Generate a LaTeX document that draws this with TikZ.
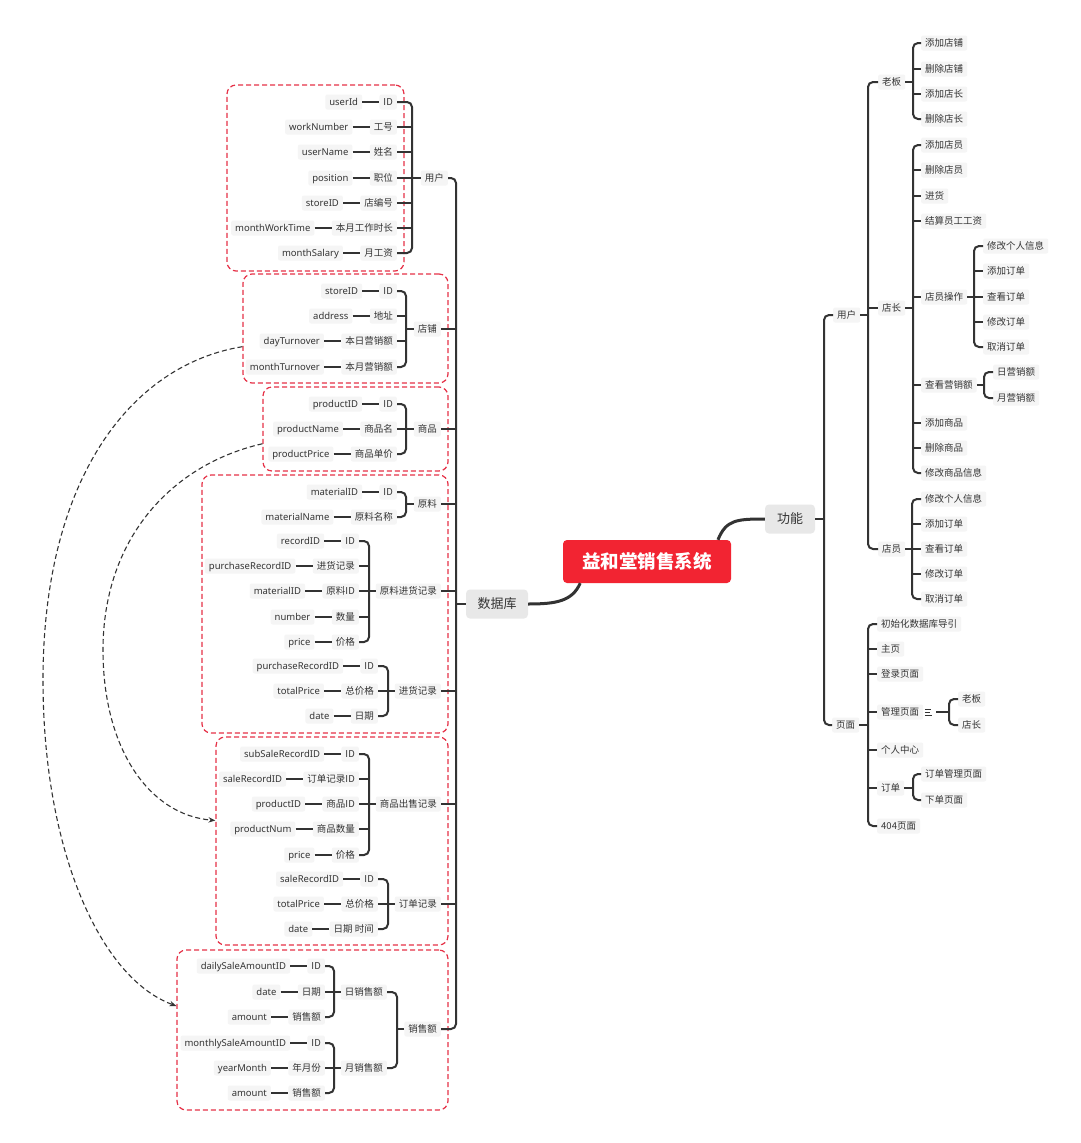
\documentclass[tikz,border=0pt]{standalone}
\usepackage{fontspec}
\setmainfont{Noto Sans CJK SC}
\newfontfamily\latfont{Noto Sans}
\usetikzlibrary{arrows.meta,calc}
\definecolor{ln}{RGB}{51,51,51}
\definecolor{txt}{RGB}{52,52,52}
\definecolor{lbg}{RGB}{245,245,245}
\definecolor{grpred}{RGB}{230,50,72}
\definecolor{rootred}{RGB}{242,36,50}
\definecolor{secbg}{RGB}{232,232,232}
\tikzset{
  lf/.style={fill=lbg, rounded corners=2pt, inner xsep=4pt, inner ysep=2.5pt,
    text height=8.5pt, text depth=1.5pt, text=txt, font=\fontsize{9.5}{11}\selectfont},
  en/.style={lf, font=\latfont\fontsize{9.5}{11}\selectfont},
  sec/.style={fill=secbg, rounded corners=4pt, minimum height=29pt, text=txt,
    font=\fontsize{13}{15}\selectfont},
  br/.style={draw=ln, line width=2pt, rounded corners=5pt},
  lk/.style={draw=ln, line width=2pt},
  rc/.style={draw=ln, line width=3pt},
  grp/.style={draw=grpred, dash pattern=on 5pt off 3pt, line width=1.2pt,
    rounded corners=9pt, inner sep=0pt},
  dep/.style={draw=ln, dash pattern=on 5pt off 3pt, line width=1.1pt,
    -{Stealth[length=7pt,width=5.5pt]}},
}
% a Chinese field label with its English column name to the left
\newcommand\fieldpair[5]{%
  \node[lf,anchor=east] (#1) at (#2,#3) {#4};
  \node[en,anchor=east] (#1e) at ($(#1.west)+(-17,0)$) {#5};
  \draw[lk] (#1e.east) -- (#1.west);}
% bracket of a left-growing group: trunk coordinate, first child, last child
\newcommand\lbracket[3]{%
  \draw[br] (#2.east) -- (#2.east -| #1) -- (#3.east -| #1) -- (#3.east);}
% bracket of a right-growing group
\newcommand\rbracket[3]{%
  \draw[br] (#2.west) -- (#2.west -| #1) -- (#3.west -| #1) -- (#3.west);}
\newcommand\rleaf[4]{\node[lf,anchor=west] (#1) at (#2,#3) {#4};}

\begin{document}
\begin{tikzpicture}[x=1pt,y=-1pt]
\useasboundingbox (0,0) rectangle (1080,1143);
\fill[white] (0,0) rectangle (1080,1143);

% ---------- table frames ----------
\node[grp, minimum width=177pt, minimum height=186pt] (gUser) at (315.5,178) {};
\node[grp, minimum width=205pt, minimum height=109pt] (gStore) at (345.5,328.5) {};
\node[grp, minimum width=185pt, minimum height=84pt] (gProd) at (355.5,429) {};
\node[grp, minimum width=246pt, minimum height=258pt] (gMat) at (325,604) {};
\node[grp, minimum width=232pt, minimum height=208pt] (gSale) at (332,841) {};
\node[grp, minimum width=271pt, minimum height=160pt] (gAmt) at (312.5,1030) {};

% ---------- central topic ----------
\node[fill=rootred, rounded corners=4pt, minimum width=168pt, minimum height=43pt,
  text=white, font=\fontsize{18.5}{20}\selectfont\bfseries] (root) at (647,561.5) {益和堂销售系统};
\node[sec, minimum width=50pt] (fn) at (790,519) {功能};
\node[sec, minimum width=62pt] (db) at (497,604) {数据库};
\draw[rc] (root.17) .. controls +(8,-20) and +(-28,0) .. (fn.west);
\draw[rc] (root.198) .. controls +(-8,18) and +(28,0) .. (db.east);

% ---------- database side ----------
\node[lf,anchor=east] (tUser) at (448,178) {用户};
\node[lf,anchor=east] (tStore) at (441,329) {店铺};
\node[lf,anchor=east] (tProd) at (441,429) {商品};
\node[lf,anchor=east] (tMat) at (441,504) {原料};
\node[lf,anchor=east] (tMP) at (441,591) {原料进货记录};
\node[lf,anchor=east] (tPR) at (441,691) {进货记录};
\node[lf,anchor=east] (tSR) at (441,804) {商品出售记录};
\node[lf,anchor=east] (tOR) at (441,904) {订单记录};
\node[lf,anchor=east] (tAmt) at (441,1029) {销售额};
\node[lf,anchor=east] (tDay) at (387,992) {日销售额};
\node[lf,anchor=east] (tMon) at (387,1068) {月销售额};

\coordinate (kDB) at (456,604);
\draw[lk] (db.west) -- (kDB);
\lbracket{kDB}{tUser}{tAmt}
\foreach \m in {tStore,tProd,tMat,tMP,tPR,tSR,tOR} \draw[lk] (\m.east) -- (\m.east -| kDB);

% user
\fieldpair{uf1}{397}{102}{ID}{userId}
\fieldpair{uf2}{397}{127}{工号}{workNumber}
\fieldpair{uf3}{397}{152}{姓名}{userName}
\fieldpair{uf4}{397}{178}{职位}{position}
\fieldpair{uf5}{397}{203}{店编号}{storeID}
\fieldpair{uf6}{397}{228}{本月工作时长}{monthWorkTime}
\fieldpair{uf7}{397}{253}{月工资}{monthSalary}
\coordinate (kUser) at (412,178);
\draw[lk] (tUser.west) -- (kUser);
\lbracket{kUser}{uf1}{uf7}
\foreach \m in {uf2,uf3,uf4,uf5,uf6} \draw[lk] (\m.east) -- (\m.east -| kUser);

% store
\fieldpair{st1}{397}{291}{ID}{storeID}
\fieldpair{st2}{397}{316}{地址}{address}
\fieldpair{st3}{397}{341}{本日营销额}{dayTurnover}
\fieldpair{st4}{397}{367}{本月营销额}{monthTurnover}
\coordinate (kStore) at (406,329);
\draw[lk] (tStore.west) -- (kStore);
\lbracket{kStore}{st1}{st4}
\foreach \m in {st2,st3} \draw[lk] (\m.east) -- (\m.east -| kStore);

% product
\fieldpair{pd1}{397}{404}{ID}{productID}
\fieldpair{pd2}{397}{429}{商品名}{productName}
\fieldpair{pd3}{397}{454}{商品单价}{productPrice}
\coordinate (kProd) at (406,429);
\draw[lk] (tProd.west) -- (kProd);
\lbracket{kProd}{pd1}{pd3}
\draw[lk] (pd2.east) -- (pd2.east -| kProd);

% material
\fieldpair{ml1}{397}{492}{ID}{materialID}
\fieldpair{ml2}{397}{517}{原料名称}{materialName}
\coordinate (kMat) at (406,504);
\draw[lk] (tMat.west) -- (kMat);
\lbracket{kMat}{ml1}{ml2}

% material purchase record
\fieldpair{mp1}{359}{541}{ID}{recordID}
\fieldpair{mp2}{359}{566}{进货记录}{purchaseRecordID}
\fieldpair{mp3}{359}{591}{原料ID}{materialID}
\fieldpair{mp4}{359}{617}{数量}{number}
\fieldpair{mp5}{359}{642}{价格}{price}
\coordinate (kMP) at (369,591);
\draw[lk] (tMP.west) -- (kMP);
\lbracket{kMP}{mp1}{mp5}
\foreach \m in {mp2,mp3,mp4} \draw[lk] (\m.east) -- (\m.east -| kMP);

% purchase record
\fieldpair{pr1}{378}{666}{ID}{purchaseRecordID}
\fieldpair{pr2}{378}{691}{总价格}{totalPrice}
\fieldpair{pr3}{378}{716}{日期}{date}
\coordinate (kPR) at (388,691);
\draw[lk] (tPR.west) -- (kPR);
\lbracket{kPR}{pr1}{pr3}
\draw[lk] (pr2.east) -- (pr2.east -| kPR);

% product sale record
\fieldpair{sr1}{359}{754}{ID}{subSaleRecordID}
\fieldpair{sr2}{359}{779}{订单记录ID}{saleRecordID}
\fieldpair{sr3}{359}{804}{商品ID}{productID}
\fieldpair{sr4}{359}{829}{商品数量}{productNum}
\fieldpair{sr5}{359}{855}{价格}{price}
\coordinate (kSR) at (369,804);
\draw[lk] (tSR.west) -- (kSR);
\lbracket{kSR}{sr1}{sr5}
\foreach \m in {sr2,sr3,sr4} \draw[lk] (\m.east) -- (\m.east -| kSR);

% order record
\fieldpair{or1}{378}{879}{ID}{saleRecordID}
\fieldpair{or2}{378}{904}{总价格}{totalPrice}
\fieldpair{or3}{378}{929}{日期 时间}{date}
\coordinate (kOR) at (388,904);
\draw[lk] (tOR.west) -- (kOR);
\lbracket{kOR}{or1}{or3}
\draw[lk] (or2.east) -- (or2.east -| kOR);

% sale amount
\coordinate (kAmt) at (397,1029);
\draw[lk] (tAmt.west) -- (kAmt);
\lbracket{kAmt}{tDay}{tMon}
\fieldpair{da1}{325}{966}{ID}{dailySaleAmountID}
\fieldpair{da2}{325}{992}{日期}{date}
\fieldpair{da3}{325}{1017}{销售额}{amount}
\coordinate (kDay) at (334,992);
\draw[lk] (tDay.west) -- (kDay);
\lbracket{kDay}{da1}{da3}
\draw[lk] (da2.east) -- (da2.east -| kDay);
\fieldpair{mo1}{325}{1043}{ID}{monthlySaleAmountID}
\fieldpair{mo2}{325}{1068}{年月份}{yearMonth}
\fieldpair{mo3}{325}{1093}{销售额}{amount}
\coordinate (kMon) at (334,1068);
\draw[lk] (tMon.west) -- (kMon);
\lbracket{kMon}{mo1}{mo3}
\draw[lk] (mo2.east) -- (mo2.east -| kMon);

% references between tables
\draw[dep] (gStore.190) .. controls (130,365) and (43,480) .. (43,680)
  .. controls (43,850) and (100,978) .. (gAmt.170);
\draw[dep] (gProd.189) .. controls (170,465) and (103,540) .. (103,650)
  .. controls (103,750) and (150,815) .. (gSale.170);

% ---------- function side ----------
\rleaf{fu}{833}{315}{用户}
\rleaf{pg}{832}{725}{页面}
\coordinate (kFn) at (824,519);
\draw[lk] (fn.east) -- (kFn);
\rbracket{kFn}{fu}{pg}

\rleaf{boss}{878}{82}{老板}
\rleaf{mgr}{878}{308}{店长}
\rleaf{clk}{878}{549}{店员}
\coordinate (kFu) at (868,315);
\draw[lk] (fu.east) -- (kFu);
\rbracket{kFu}{boss}{clk}
\draw[lk] (mgr.west -| kFu) -- (mgr.west);

\rleaf{bo1}{921}{43}{添加店铺}
\rleaf{bo2}{921}{69}{删除店铺}
\rleaf{bo3}{921}{94}{添加店长}
\rleaf{bo4}{921}{119}{删除店长}
\coordinate (kBoss) at (913,82);
\draw[lk] (boss.east) -- (kBoss);
\rbracket{kBoss}{bo1}{bo4}
\foreach \m in {bo2,bo3} \draw[lk] (\m.west -| kBoss) -- (\m.west);

\rleaf{mg1}{921}{145}{添加店员}
\rleaf{mg2}{921}{170}{删除店员}
\rleaf{mg3}{921}{196}{进货}
\rleaf{mg4}{921}{221}{结算员工工资}
\rleaf{mg5}{921}{297}{店员操作}
\rleaf{mg6}{921}{385}{查看营销额}
\rleaf{mg7}{921}{423}{添加商品}
\rleaf{mg8}{921}{448}{删除商品}
\rleaf{mg9}{921}{473}{修改商品信息}
\coordinate (kMgr) at (913,308);
\draw[lk] (mgr.east) -- (kMgr);
\rbracket{kMgr}{mg1}{mg9}
\foreach \m in {mg2,mg3,mg4,mg5,mg6,mg7,mg8} \draw[lk] (\m.west -| kMgr) -- (\m.west);

\rleaf{op1}{983}{246}{修改个人信息}
\rleaf{op2}{983}{271}{添加订单}
\rleaf{op3}{983}{297}{查看订单}
\rleaf{op4}{983}{322}{修改订单}
\rleaf{op5}{983}{347}{取消订单}
\coordinate (kOp) at (974,297);
\draw[lk] (mg5.east) -- (kOp);
\rbracket{kOp}{op1}{op5}
\foreach \m in {op2,op3,op4} \draw[lk] (\m.west -| kOp) -- (\m.west);

\rleaf{vw1}{993}{372}{日营销额}
\rleaf{vw2}{993}{398}{月营销额}
\coordinate (kVw) at (984,385);
\draw[lk] (mg6.east) -- (kVw);
\rbracket{kVw}{vw1}{vw2}

\rleaf{ck1}{921}{499}{修改个人信息}
\rleaf{ck2}{921}{524}{添加订单}
\rleaf{ck3}{921}{549}{查看订单}
\rleaf{ck4}{921}{574}{修改订单}
\rleaf{ck5}{921}{599}{取消订单}
\coordinate (kClk) at (912,549);
\draw[lk] (clk.east) -- (kClk);
\rbracket{kClk}{ck1}{ck5}
\foreach \m in {ck2,ck3,ck4} \draw[lk] (\m.west -| kClk) -- (\m.west);

\rleaf{pg1}{877}{624}{初始化数据库导引}
\rleaf{pg2}{877}{649}{主页}
\rleaf{pg3}{877}{674}{登录页面}
\rleaf{pg4}{877}{712}{管理页面}
\rleaf{pg5}{877}{750}{个人中心}
\rleaf{pg6}{877}{788}{订单}
\rleaf{pg7}{877}{826}{404页面}
\coordinate (kPg) at (868,725);
\draw[lk] (pg.east) -- (kPg);
\rbracket{kPg}{pg1}{pg7}
\foreach \m in {pg2,pg3,pg4,pg5,pg6} \draw[lk] (\m.west -| kPg) -- (\m.west);

% note marker beside the admin page topic
\node[minimum width=8pt, minimum height=8pt, inner sep=0pt] (note) at (929,712) {};
\draw[ln, line width=0.8pt] ($(note.west)+(0,-3)$) -- ++(6,0)
  ($(note.west)+(0,0)$) -- ++(5,0) ($(note.west)+(0,3)$) -- ++(7,0);
\rleaf{ad1}{958}{699}{老板}
\rleaf{ad2}{958}{725}{店长}
\coordinate (kAd) at (949,712);
\draw[lk] ($(note.east)+(3,0)$) -- (kAd);
\rbracket{kAd}{ad1}{ad2}

\rleaf{od1}{921}{774}{订单管理页面}
\rleaf{od2}{921}{800}{下单页面}
\coordinate (kOd) at (913,788);
\draw[lk] (pg6.east) -- (kOd);
\rbracket{kOd}{od1}{od2}
\end{tikzpicture}
\end{document}
